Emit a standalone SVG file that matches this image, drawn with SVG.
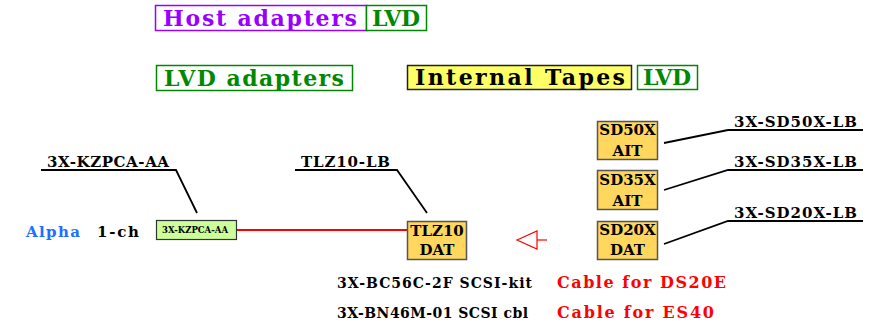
<svg xmlns="http://www.w3.org/2000/svg" width="877" height="329" viewBox="0 0 877 329">
<style>
text{font-family:"DejaVu Serif","Liberation Serif",serif;font-weight:bold;}
.hdr{font-size:22px;}
.nd{font-size:15px;text-anchor:middle;}
.lbl{font-size:15px;}
.bt{font-size:14px;}
.red{font-size:16px;fill:#FF0000;}
.tape{fill:#FFD75E;stroke:#555;stroke-width:1.5;}
.ln{stroke:#000;stroke-width:1.8;fill:none;}
</style>
<rect width="877" height="329" fill="#fff"/>
<g id="legend">
<rect x="155.5" y="5.5" width="211" height="25" fill="#fff" stroke="#9900FF" stroke-width="1.5"/>
<text class="hdr" x="163" y="26" fill="#9900FF" textLength="194" lengthAdjust="spacing">Host adapters</text>
<rect x="366.5" y="5.5" width="60" height="25" fill="#fff" stroke="#008800" stroke-width="1.5"/>
<text class="hdr" x="372" y="26" fill="#008800" textLength="48" lengthAdjust="spacing">LVD</text>
<rect x="156.5" y="65.5" width="196" height="25" fill="#fff" stroke="#008800" stroke-width="1.5"/>
<text class="hdr" x="164" y="86" fill="#008800" textLength="180" lengthAdjust="spacing">LVD adapters</text>
<rect x="407.5" y="65.5" width="224" height="24" fill="#FFFF66" stroke="#222" stroke-width="1.5"/>
<text class="hdr" x="415" y="85" fill="#000" textLength="210" lengthAdjust="spacing">Internal Tapes</text>
<rect x="637.5" y="65.5" width="60" height="24" fill="#fff" stroke="#008800" stroke-width="1.5"/>
<text class="hdr" x="643" y="85" fill="#008800" textLength="48" lengthAdjust="spacing">LVD</text>
</g>
<g id="connectors">
<polyline class="ln" points="41,170 176,170 197,213"/>
<polyline class="ln" points="295,170 397,170 427,213"/>
<polyline class="ln" points="664,143 728,130 863,130"/>
<polyline class="ln" points="664,190 728,170 863,170"/>
<polyline class="ln" points="664,244 728,221 863,221"/>
<line x1="237" y1="230" x2="407" y2="230" stroke="#FF0000" stroke-width="2"/>
<polygon points="517,240 537,231 537,249" fill="#fff" stroke="#FF0000" stroke-width="1.2"/>
<line x1="537" y1="240" x2="547" y2="240" stroke="#FF0000" stroke-width="1.2"/>
</g>
<g id="alpha">
<text class="lbl" x="26" y="237" fill="#1E6EFF" textLength="54" lengthAdjust="spacing">Alpha</text>
<text class="lbl" x="97" y="237" fill="#000" textLength="42" lengthAdjust="spacing">1-ch</text>
</g>
<g id="kzpca">
<text class="lbl" x="47" y="167" textLength="122" lengthAdjust="spacing">3X-KZPCA-AA</text>
<rect x="156.5" y="220.5" width="80" height="19" fill="#CCFF99" stroke="#333" stroke-width="1.2"/>
<text x="162" y="233" font-size="9" textLength="66" lengthAdjust="spacingAndGlyphs">3X-KZPCA-AA</text>
</g>
<g id="tlz10">
<text class="lbl" x="301" y="167" textLength="89" lengthAdjust="spacing">TLZ10-LB</text>
<rect class="tape" x="407.5" y="221.5" width="59" height="38"/>
<text class="nd" x="437" y="236">TLZ10</text>
<text class="nd" x="437" y="255">DAT</text>
</g>
<g id="sd50x">
<text class="lbl" x="734" y="127" textLength="123" lengthAdjust="spacing">3X-SD50X-LB</text>
<rect class="tape" x="597.5" y="121.5" width="60" height="38"/>
<text class="nd" x="627.5" y="135">SD50X</text>
<text class="nd" x="627.5" y="156">AIT</text>
</g>
<g id="sd35x">
<text class="lbl" x="734" y="167" textLength="123" lengthAdjust="spacing">3X-SD35X-LB</text>
<rect class="tape" x="597.5" y="170.5" width="60" height="39"/>
<text class="nd" x="627.5" y="185">SD35X</text>
<text class="nd" x="627.5" y="206">AIT</text>
</g>
<g id="sd20x">
<text class="lbl" x="734" y="218" textLength="123" lengthAdjust="spacing">3X-SD20X-LB</text>
<rect class="tape" x="597.5" y="221.5" width="60" height="38"/>
<text class="nd" x="627.5" y="235">SD20X</text>
<text class="nd" x="627.5" y="255">DAT</text>
</g>
<g id="cables">
<text class="bt" x="337" y="288" textLength="195" lengthAdjust="spacing">3X-BC56C-2F SCSI-kit</text>
<text class="red" x="557" y="288" textLength="169" lengthAdjust="spacing">Cable for DS20E</text>
<text class="bt" x="337" y="318" textLength="191" lengthAdjust="spacing">3X-BN46M-01 SCSI cbl</text>
<text class="red" x="557" y="318" textLength="157" lengthAdjust="spacing">Cable for ES40</text>
</g>
</svg>
